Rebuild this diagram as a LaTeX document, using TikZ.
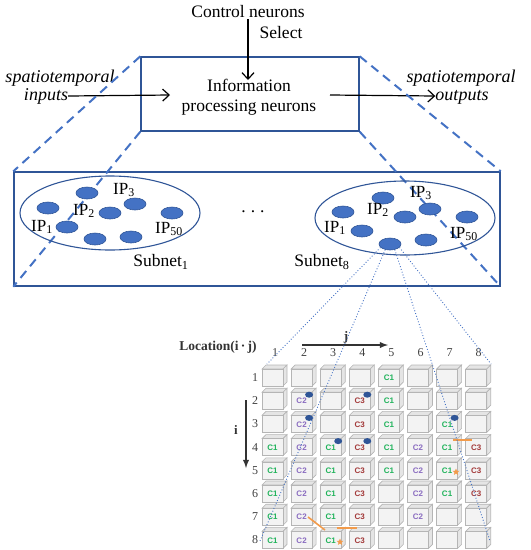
\documentclass[tikz,border=0pt]{standalone}
\usepackage{fontspec}
\setmainfont{Liberation Serif}
\newfontfamily\tagfont{Liberation Sans}
\usetikzlibrary{shapes.geometric,arrows.meta}

\definecolor{netblue}{HTML}{4472C4}
\definecolor{deepblue}{HTML}{2F5597}
\definecolor{tagone}{HTML}{1FB35A}
\definecolor{tagtwo}{HTML}{8A6CC0}
\definecolor{tagthree}{HTML}{A33A3A}
\definecolor{hiorange}{HTML}{F29B4B}
\definecolor{cellrim}{HTML}{B5B5B5}
\definecolor{cellfill}{HTML}{F3F3F3}

\tikzset{
  lbl/.style={font=\fontsize{17.5}{20}\selectfont, inner sep=1pt},
  itlbl/.style={font=\fontsize{18}{20}\selectfont\itshape, inner sep=0pt,
    text height=12pt, text depth=3.5pt},
  layerbox/.style={draw=deepblue, line width=1.4pt, inner sep=0pt},
  subnet/.style={ellipse, draw=deepblue, line width=1.1pt, inner sep=0pt},
  ipblob/.style={ellipse, fill=netblue, draw=deepblue, line width=0.6pt,
    minimum width=22pt, minimum height=12pt, inner sep=0pt},
  iplbl/.style={font=\fontsize{17}{20}\selectfont, inner sep=0pt},
  flow/.style={-{Straight Barb[length=6.5pt,width=12pt]}, line width=1.2pt},
  zoomline/.style={netblue, line width=2pt, dash pattern=on 9pt off 6pt},
  projline/.style={netblue, line width=0.9pt, dotted},
  axisarrow/.style={-latex, line width=1.8pt, black!80},
  numlbl/.style={font=\fontsize{12}{14}\selectfont, text=black!75, inner sep=0pt},
  cellface/.style={fill=cellfill, draw=cellrim, line width=0.6pt},
  celltop/.style={fill=white!90!black, draw=cellrim, line width=0.6pt},
  ctag/.style={font=\tagfont\bfseries\fontsize{8}{9}\selectfont, inner sep=0pt},
  tag1/.style={text=tagone},
  tag2/.style={text=tagtwo},
  tag3/.style={text=tagthree},
  cdot/.style={ellipse, fill=deepblue, minimum width=8pt, minimum height=6pt, inner sep=0pt},
  orline/.style={draw=hiorange, line width=1.6pt},
  orstar/.style={star, star points=5, star point ratio=2.2, fill=hiorange, minimum size=7pt, inner sep=0pt}
}

\begin{document}
\begin{tikzpicture}[x=1pt, y=-1pt]
  \useasboundingbox (0,0) rectangle (531,550);

  % Ebene oben
  \node[lbl] (ctrl) at (248,12) {Control neurons};
  \node[lbl] (sel) at (281,33) {Select};
  \node[layerbox, minimum width=218pt, minimum height=74pt] (info) at (250,94) {};
  \node[lbl, align=center] (infotext) at (249,97) {Information\\processing neurons};
  \coordinate (selin) at (248,80);
  \draw[flow] (ctrl.south) -- (selin);

  \node[itlbl] (spin) at (60,78) {spatiotemporal};
  \node[itlbl] (inp) at (46,96) {inputs};
  \coordinate (inend) at (170,95);
  \draw[flow] (inp.east) -- (inend);

  \node[itlbl] (spout) at (461,78) {spatiotemporal};
  \node[itlbl] (outp) at (462,96) {outputs};
  \coordinate (outstart) at (330,95);
  \draw[flow] (outstart) -- (outp.west);

  % Ebene mitte
  \node[layerbox, minimum width=486pt, minimum height=114pt] (layer) at (257,229) {};
  \draw[zoomline] (info.north west) -- (layer.north west);
  \draw[zoomline] (info.south west) -- (layer.south west);
  \draw[zoomline] (info.north east) -- (layer.north east);
  \draw[zoomline] (info.south east) -- (layer.south east);

  % Subnet 1
  \node[subnet, minimum width=180pt, minimum height=74pt] (sub1) at (110,213) {};
  \node[ipblob] (a1) at (48,208) {};
  \node[ipblob] (a2) at (87,193) {};
  \node[ipblob] (a3) at (110,213) {};
  \node[ipblob] (a4) at (135,204) {};
  \node[ipblob] (a5) at (172,213) {};
  \node[ipblob] (a6) at (67,227) {};
  \node[ipblob] (a7) at (95,239) {};
  \node[ipblob] (a8) at (131,237) {};
  \node[iplbl] (a1lbl) at (42,227) {IP\textsubscript{1}};
  \node[iplbl] (a2lbl) at (84,211) {IP\textsubscript{2}};
  \node[iplbl] (a3lbl) at (124,190) {IP\textsubscript{3}};
  \node[iplbl] (a50lbl) at (169,229) {IP\textsubscript{50}};
  \node[lbl] (sub1lbl) at (161,262) {Subnet\textsubscript{1}};

  \node[lbl] (gap) at (253,212) {.\hspace{5pt}.\hspace{5pt}.};

  % Subnet 8
  \node[subnet, minimum width=180pt, minimum height=74pt] (sub8) at (405,218) {};
  \node[ipblob] (b1) at (343,212) {};
  \node[ipblob] (b2) at (383,198) {};
  \node[ipblob] (b3) at (405,217) {};
  \node[ipblob] (b4) at (430,209) {};
  \node[ipblob] (b5) at (467,217) {};
  \node[ipblob] (b6) at (362,231) {};
  \node[ipblob] (b7) at (390,244) {};
  \node[ipblob] (b8) at (426,240) {};
  \node[iplbl] (b1lbl) at (335,228) {IP\textsubscript{1}};
  \node[iplbl] (b2lbl) at (378,210) {IP\textsubscript{2}};
  \node[iplbl] (b3lbl) at (421,193) {IP\textsubscript{3}};
  \node[iplbl] (b50lbl) at (464,234) {IP\textsubscript{50}};
  \node[lbl] (sub8lbl) at (322,262) {Subnet\textsubscript{8}};

  % Gitter
  \node[font=\fontsize{13.5}{15}\selectfont\bfseries, text=black!80] (loc) at (218,347) {Location(i\,·\,j)};
  \coordinate (jtail) at (302,345);
  \coordinate (jhead) at (388,345);
  \draw[axisarrow] (jtail) -- (jhead);
  \node[font=\fontsize{13}{15}\selectfont\bfseries, text=black!80] (jlbl) at (346,337) {j};
  \coordinate (itail) at (246,400);
  \coordinate (ihead) at (246,468);
  \draw[axisarrow] (itail) -- (ihead);
  \node[font=\fontsize{13}{15}\selectfont\bfseries, text=black!80] (ilbl) at (236,430) {i};

  \foreach \n in {1,...,8} {
    \node[numlbl] (col\n) at ({275+(\n-1)*29.1},353) {\n};
    \node[numlbl] (row\n) at (255,{377.5+(\n-1)*23.2}) {\n};
  }

  \foreach \r in {1,...,8}
    \foreach \c in {1,...,8} {
      \pgfmathsetmacro\cx{262+(\c-1)*29.1}
      \pgfmathsetmacro\cy{369+(\r-1)*23.2}
      \filldraw[celltop] (\cx,\cy) -- ++(4,-4) -- ++(21,0) -- ++(-4,4) -- cycle;
      \filldraw[celltop] (\cx+21,\cy) -- ++(4,-4) -- ++(0,17) -- ++(-4,4) -- cycle;
      \filldraw[cellface] (\cx,\cy) rectangle ++(21,17);
    }

  \foreach \r/\c/\k in {1/5/1,
      2/2/2, 2/4/3, 2/5/1,
      3/2/2, 3/4/3, 3/5/1, 3/7/1,
      4/1/1, 4/2/2, 4/3/1, 4/4/3, 4/5/1, 4/6/2, 4/7/1, 4/8/3,
      5/1/1, 5/2/2, 5/3/1, 5/4/3, 5/5/1, 5/6/2, 5/7/1, 5/8/3,
      6/1/1, 6/2/2, 6/3/1, 6/4/3, 6/6/2, 6/7/1, 6/8/3,
      7/1/1, 7/2/2, 7/3/1, 7/4/3, 7/6/2,
      8/1/1, 8/2/2, 8/3/1, 8/4/3}
    \node[ctag, tag\k] (t\r\c) at ({272.5+(\c-1)*29.1},{378+(\r-1)*23.2}) {C\k};

  % Punkte auf den Zellen
  \foreach \r/\c in {2/2, 3/2, 2/4, 3/7, 4/3, 4/4}
    \node[cdot] (d\r\c) at ({280+(\c-1)*29.1},{371.5+(\r-1)*23.2}) {};

  % orange Markierungen
  \draw[orline] (453,440) -- (472,440);
  \draw[orline] (308,517) -- (325,530);
  \draw[orline] (337,528) -- (357,528);
  \node[orstar] (s1) at (456,472) {};
  \node[orstar] (s2) at (340,542) {};

  % Projektion
  \coordinate (gtl) at (267,364);
  \coordinate (gtr) at (491,364);
  \coordinate (gbl) at (260,541);
  \coordinate (gbr) at (490,541);
  \draw[projline] (b7.200) -- (gtl);
  \draw[projline] (b7.230) -- (gbl);
  \draw[projline] (b7.310) -- (gbr);
  \draw[projline] (b7.340) -- (gtr);
\end{tikzpicture}
\end{document}
